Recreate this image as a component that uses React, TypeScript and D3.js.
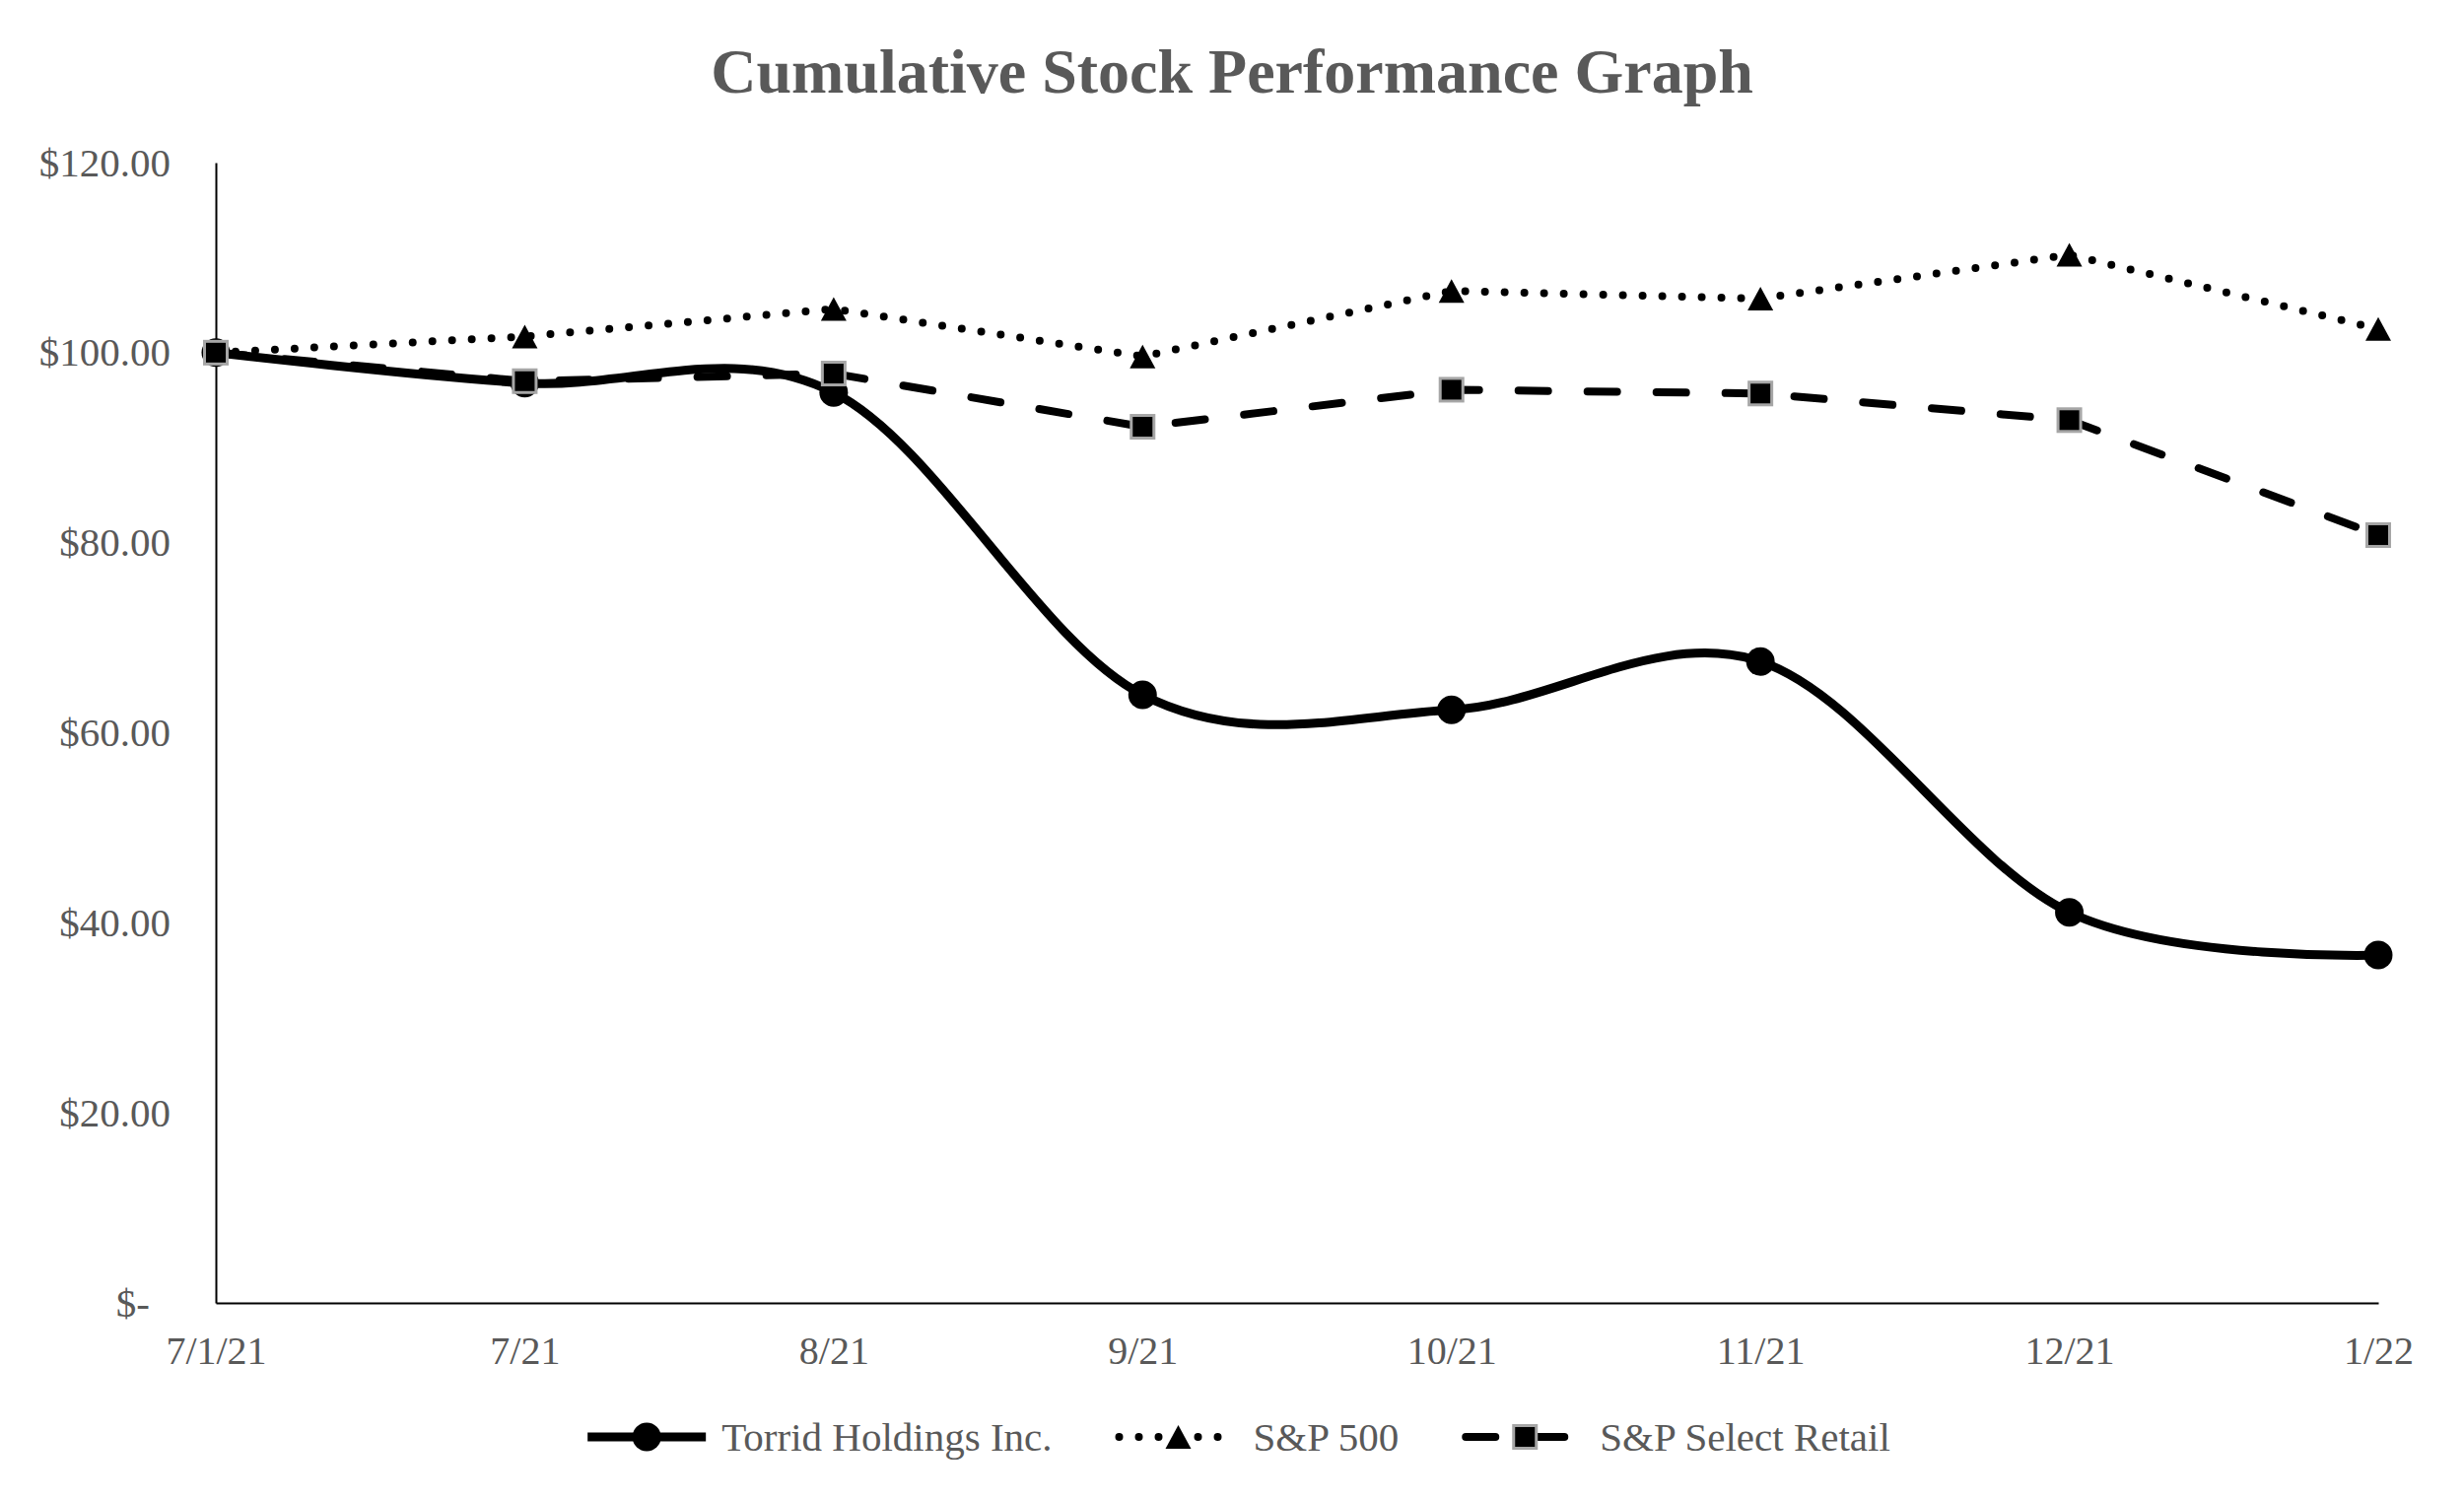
import * as d3 from 'd3';
import { useEffect, useRef } from 'react';

// cumulative value of $100 invested on 7/1/21
const months = ['7/1/21', '7/21', '8/21', '9/21', '10/21', '11/21', '12/21', '1/22'];
const torrid = [100, 96.8, 95.8, 64.0, 62.4, 67.5, 41.1, 36.6];
const sp500 = [100, 101.7, 104.6, 99.6, 106.5, 105.7, 110.3, 102.5];
const selectRetail = [100, 97.0, 97.8, 92.2, 96.1, 95.7, 92.9, 80.8];
const yTicks = [0, 20, 40, 60, 80, 100, 120];
const seriesNames = ['Torrid Holdings Inc.', 'S&P 500', 'S&P Select Retail'];

const W = 2500;
const H = 1522;
const FONT = '"Liberation Serif", "Times New Roman", serif';
const GREY = '#595959';

type Kind = 'circle' | 'triangle' | 'square';

const App = () => {
  const ref = useRef<SVGSVGElement>(null);

  useEffect(() => {
    const svg = d3.select(ref.current);
    svg.selectAll('*').remove();

    const margin = { top: 165, right: 87, bottom: 200, left: 219 };
    const x = d3.scalePoint<string>().domain(months).range([margin.left, W - margin.right]);
    const y = d3.scaleLinear().domain([0, 120]).range([H - margin.bottom, margin.top]);

    svg.append('rect').attr('width', W).attr('height', H).attr('fill', '#fff');

    svg.append('text')
      .attr('x', W / 2)
      .attr('y', 94)
      .attr('text-anchor', 'middle')
      .attr('font-family', FONT)
      .attr('font-weight', 'bold')
      .attr('font-size', 64)
      .attr('fill', GREY)
      .text('Cumulative Stock Performance Graph');

    // axes
    const yAxis = svg.append('g')
      .attr('transform', `translate(${margin.left},0)`)
      .call(d3.axisLeft(y).tickValues(yTicks).tickSize(0).tickPadding(46)
        .tickFormat(d => (+d === 0 ? '$-' : `$${(+d).toFixed(2)}`)));
    yAxis.selectAll('text').attr('font-size', 41);
    yAxis.selectAll<SVGTextElement, number>('text').filter(d => d === 0).attr('x', -67);

    const xAxis = svg.append('g')
      .attr('transform', `translate(0,${H - margin.bottom})`)
      .call(d3.axisBottom(x).tickSize(0).tickSizeOuter(0).tickPadding(34));
    xAxis.selectAll('text').attr('font-size', 40);

    [yAxis, xAxis].forEach(g => {
      g.attr('font-family', FONT);
      g.selectAll('text').attr('fill', GREY);
      g.select('.domain').attr('stroke', '#000').attr('stroke-width', 2);
    });

    const drawMarker = (g: d3.Selection<SVGGElement, unknown, null, undefined>, kind: Kind, cx: number, cy: number) => {
      if (kind === 'circle') {
        g.append('circle').attr('cx', cx).attr('cy', cy).attr('r', 14.5).attr('fill', '#000');
      } else if (kind === 'triangle') {
        const w = 26, h = 24;
        g.append('path')
          .attr('d', `M${cx},${cy - h / 2}L${cx + w / 2},${cy + h / 2}L${cx - w / 2},${cy + h / 2}Z`)
          .attr('fill', '#000');
      } else {
        g.append('rect')
          .attr('x', cx - 11.5).attr('y', cy - 11.5)
          .attr('width', 23).attr('height', 23)
          .attr('fill', '#000')
          .attr('stroke', '#a6a6a6')
          .attr('stroke-width', 3);
      }
    };

    const series = [
      { name: seriesNames[0], values: torrid, kind: 'circle' as Kind, dash: null, width: 9, smooth: true },
      { name: seriesNames[1], values: sp500, kind: 'triangle' as Kind, dash: '0,20', width: 8, smooth: false },
      { name: seriesNames[2], values: selectRetail, kind: 'square' as Kind, dash: '30,40', width: 8, smooth: false },
    ];

    series.forEach(s => {
      const g = svg.append('g');
      const line = d3.line<number>()
        .x((_, i) => x(months[i])!)
        .y(d => y(d))
        .curve(s.smooth ? d3.curveCardinal.tension(0) : d3.curveLinear);
      g.append('path')
        .attr('d', line(s.values))
        .attr('fill', 'none')
        .attr('stroke', '#000')
        .attr('stroke-width', s.width)
        .attr('stroke-linecap', 'round')
        .attr('stroke-linejoin', 'round')
        .attr('stroke-dasharray', s.dash);
      s.values.forEach((v, i) => drawMarker(g, s.kind, x(months[i])!, y(v)));
    });

    // legend
    const legend = svg.append('g');
    const legendY = 1458;
    const lineLen = 120;
    const textGap = 136;
    const itemGap = 68;
    const items = series.map(s => {
      const g = legend.append('g');
      g.append('line')
        .attr('x1', 0).attr('x2', lineLen)
        .attr('y1', legendY).attr('y2', legendY)
        .attr('stroke', '#000')
        .attr('stroke-width', s.width)
        .attr('stroke-linecap', s.dash ? 'round' : 'butt')
        .attr('stroke-dasharray', s.dash);
      drawMarker(g, s.kind, lineLen / 2, legendY);
      const t = g.append('text')
        .attr('x', textGap)
        .attr('y', legendY + 14)
        .attr('font-family', FONT)
        .attr('font-size', 41)
        .attr('fill', GREY)
        .text(s.name);
      const tw = (t.node() as SVGTextElement).getComputedTextLength();
      return { g, w: textGap + tw };
    });
    const total = d3.sum(items, d => d.w) + itemGap * (items.length - 1);
    let cursor = 1257 - total / 2;
    items.forEach(it => {
      it.g.attr('transform', `translate(${cursor},0)`);
      cursor += it.w + itemGap;
    });
  }, []);

  return <svg ref={ref} width={W} height={H} style={{ position: 'absolute', left: 0, top: 0 }} />;
};

export default App;
